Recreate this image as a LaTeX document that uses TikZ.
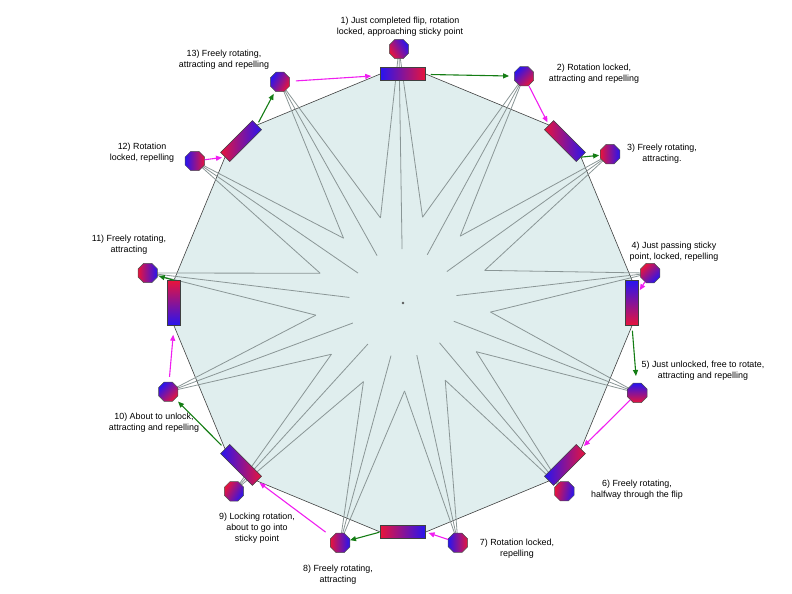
\documentclass[tikz,border=0pt]{standalone}
\usepackage{fontspec}
\setmainfont{Liberation Sans}
\usetikzlibrary{arrows.meta,shapes.geometric,backgrounds}
\definecolor{magblue}{RGB}{40,20,240}
\definecolor{magred}{RGB}{232,20,60}
\definecolor{wheelfill}{RGB}{224,238,238}
\definecolor{fieldline}{RGB}{138,150,150}
\definecolor{pushcol}{RGB}{240,30,240}
\definecolor{lockcol}{RGB}{20,125,20}

\begin{document}
\begin{tikzpicture}[
  x=1bp,y=1bp,
  every node/.style={font=\fontsize{8.9bp}{11bp}\selectfont,align=center},
  bar/.style={draw=black!75,line width=0.5bp,inner sep=0pt},
  hbar/.style={bar,minimum width=45bp,minimum height=13bp},
  vbar/.style={bar,minimum width=13bp,minimum height=45bp},
  ball/.style={regular polygon,regular polygon sides=8,minimum size=21bp,inner sep=0pt,
    draw=black!70,line width=0.5bp,top color=magblue,bottom color=magred,shading angle=#1},
  lbl/.style={inner sep=0pt},
  push/.style={-{Triangle[length=6bp,width=5bp]},line width=1.1bp,draw=pushcol},
  lock/.style={-{Triangle[length=6bp,width=5bp]},line width=1.1bp,draw=lockcol},
  field/.style={draw=fieldline,line width=0.8bp},
  rim/.style={fill=wheelfill,draw=black!75,line width=0.6bp}
]
\useasboundingbox (-403,-291) rectangle (389,303);

% fixed magnets on the rim
\node[hbar,left color=magblue,right color=magred] (r1) at (90:229) {};
\node[hbar,rotate=-45,left color=magred,right color=magblue] (r3) at (45:229) {};
\node[vbar,top color=magblue,bottom color=magred] (r4) at (0:229) {};
\node[hbar,rotate=45,left color=magblue,right color=magred] (r6) at (-45:229) {};
\node[hbar,left color=magred,right color=magblue] (r7) at (-90:229) {};
\node[hbar,rotate=-45,left color=magblue,right color=magred] (r9) at (-135:229) {};
\node[vbar,top color=magred,bottom color=magblue] (r11) at (180:229) {};
\node[hbar,rotate=45,left color=magred,right color=magblue] (r12) at (135:229) {};

% rotating magnets
\foreach \n/\a/\r/\s in {1/90.9/254/-60,2/61.9/257/45,3/35.7/255/-90,4/6.9/249/-135,
  5/-21/251/0,6/-49.4/248/-100,7/-77.1/246/90,8/-104.7/248/-90,9/-131.9/253/-120,
  10/-159.3/251/45,11/173.3/257/-90,12/145.7/252/90,13/119.1/253/60}
  \node[ball=\s] (b\n) at (\a:\r) {};

\node[circle,fill=black!65,inner sep=0pt,minimum size=2.6bp] (hub) at (0,0) {};

\foreach \k in {1,...,13}{
  \coordinate (m\k) at ({91-(\k-0.5)*360/13}:88);
  \coordinate (i\k) at ({91-(\k-1)*360/13}:54);
}

\begin{scope}[on background layer]
\filldraw[rim] (r1.east) -- (r3.west) -- (r3.east) -- (r4.north) -- (r4.south)
  -- (r6.east) -- (r6.west) -- (r7.east) -- (r7.west) -- (r9.east) -- (r9.west)
  -- (r11.south) -- (r11.north) -- (r12.west) -- (r12.east) -- (r1.west) -- cycle;
\foreach \k [evaluate=\k as \pv using {int(mod(\k+11,13)+1)}] in {1,...,13}{
  \draw[field] (m\pv) -- (b\k.center) -- (m\k);
  \draw[field] (b\k.center) -- (i\k);
}
\end{scope}

% labels
\node[lbl] (t1) at (-3,276) {1) Just completed flip, rotation\\locked, approaching sticky point};
\node[lbl] (t2) at (191,229) {2) Rotation locked,\\attracting and repelling};
\node[lbl] (t3) at (259,149) {3) Freely rotating,\\attracting.};
\node[lbl] (t4) at (271,51) {4) Just passing sticky\\point, locked, repelling};
\node[lbl] (t5) at (300,-68) {5) Just unlocked, free to rotate,\\attracting and repelling};
\node[lbl] (t6) at (234,-187) {6) Freely rotating,\\halfway through the flip};
\node[lbl] (t7) at (114,-246) {7) Rotation locked,\\repelling};
\node[lbl] (t8) at (-65,-272) {8) Freely rotating,\\attracting};
\node[lbl] (t9) at (-146,-225) {9) Locking rotation,\\about to go into\\sticky point};
\node[lbl] (t10) at (-249,-120) {10) About to unlock,\\attracting and repelling};
\node[lbl] (t11) at (-274,58) {11) Freely rotating,\\attracting};
\node[lbl] (t12) at (-261,150) {12) Rotation\\locked, repelling};
\node[lbl] (t13) at (-179,243) {13) Freely rotating,\\attracting and repelling};

% steps
\draw[push,shorten <=6bp,shorten >=9bp] (b13) -- (r1);
\draw[lock,shorten <=5bp,shorten >=5bp] (r1) -- (b2);
\draw[push,shorten >=3bp] (b2) -- (r3.west);
\draw[lock,shorten >=1bp] (r3.east) -- (b3);
\draw[push,shorten >=2bp] (b4) -- (r4);
\draw[lock,shorten <=5bp,shorten >=7bp] (r4.south) -- (b5);
\draw[push,shorten >=4bp] (b5) -- (r6.east);
\draw[push,shorten >=3bp] (b7) -- (r7.east);
\draw[lock,shorten <=1bp] (r7.west) -- (b8);
\draw[push,shorten <=8bp,shorten >=3bp] (b8) -- (r9.east);
\draw[lock,shorten <=5bp,shorten >=4bp] (r9.west) -- (b10);
\draw[push,shorten <=5bp,shorten >=9bp] (b10) -- (r11.south);
\draw[lock,shorten >=1bp] (r11.north) -- (b11);
\draw[push,shorten >=3bp] (b12) -- (r12.west);
\draw[lock,shorten <=3bp,shorten >=3bp] (r12.east) -- (b13);
\end{tikzpicture}
\end{document}
